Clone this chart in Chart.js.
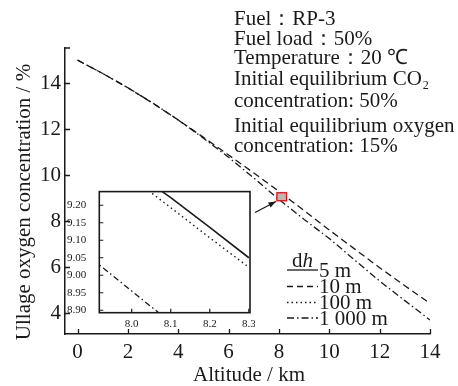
<!DOCTYPE html>
<html><head><meta charset="utf-8">
<script src="https://cdn.jsdelivr.net/npm/chart.js@4/dist/chart.umd.min.js"></script>
<style>
html,body{margin:0;padding:0;background:#fff;}
#wrap{position:relative;width:458px;height:386px;overflow:hidden;}
#main{position:absolute;left:0;top:0;}
#inset{position:absolute;left:60px;top:180px;}
</style></head><body>
<div id="wrap"><canvas id="main" width="458" height="386"></canvas><canvas id="inset" width="195" height="155"></canvas></div>
<script>
// ---- data ----
const altitudeKm = [0,1,2,3,4,5,6,7,8,9,10,11,12,13,14];
const dh10m   = [15.00,14.42,13.80,13.12,12.40,11.65,10.88,10.10,9.30,8.46,7.62,6.80,5.98,5.20,4.43];
const dh1000m = [15.00,14.42,13.80,13.13,12.40,11.61,10.78,9.88,8.95,8.08,7.25,6.32,5.40,4.55,3.71];
const xTicks = [0,2,4,6,8,10,12,14];
const yTicks = [4,6,8,10,12,14];

const insetAltitude = [7.9,8.0,8.1,8.2,8.3];
const inset5m    = [9.385,9.300,9.222,9.137,9.050];
const inset100m  = [9.365,9.279,9.193,9.107,9.023];
const inset1000m = [9.045,8.955,8.865,8.780,8.690];
const insetXTicks = [8.0,8.1,8.2,8.3];
const insetYTicks = [8.90,8.95,9.00,9.05,9.10,9.15,9.20];

const legendLabels = ['5 m','10 m','100 m','1 000 m'];
const noteLines = ['Fuel\uFF1ARP-3','Fuel load\uFF1A50%','Temperature\uFF1A20 \u2103','Initial equilibrium CO','concentration: 50%','Initial equilibrium oxygen','concentration: 15%'];
const xTitle = 'Altitude / km';
const yTitle = 'Ullage oxygen concentration / %';

// ---- styles ----
const SERIF = '"Liberation Serif","Times New Roman",serif';
const INK = '#1a1a1a';
const FS = 21;
const DASH = {solid:[], dashed:[6,4], dotted:[1.5,3], dashdot:[7,3,1.5,3]};
const legendStyles = [DASH.solid, DASH.dashed, DASH.dotted, DASH.dashdot];

const decor = {
  id:'decor',
  afterDraw(chart){
    const {ctx, chartArea:a, scales:{x,y}} = chart;
    ctx.save();
    // inward ticks
    ctx.strokeStyle = INK; ctx.lineWidth = 1.3; ctx.setLineDash([]);
    ctx.beginPath();
    xTicks.forEach(v=>{const p=Math.round(x.getPixelForValue(v))+0.5; ctx.moveTo(p,a.bottom); ctx.lineTo(p,a.bottom-5);});
    yTicks.forEach(v=>{const p=Math.round(y.getPixelForValue(v))+0.5; ctx.moveTo(a.left,p); ctx.lineTo(a.left+5,p);});
    ctx.moveTo(a.left,a.top); ctx.lineTo(a.left+5,a.top);
    ctx.stroke();
    // axis titles
    ctx.fillStyle = INK;
    ctx.font = FS+'px '+SERIF;
    ctx.textAlign='center'; ctx.textBaseline='middle';
    ctx.fillText(xTitle, 249, 375);
    ctx.save(); ctx.translate(24, 202); ctx.rotate(-Math.PI/2); ctx.fillText(yTitle,0,0); ctx.restore();
    // notes
    ctx.textAlign='left'; ctx.textBaseline='alphabetic';
    const base=[25,45,64,85,107,132,152];
    noteLines.forEach((t,i)=>{ctx.font=FS+'px '+SERIF; ctx.fillText(t,234,base[i]);
      if(i===3){const w=ctx.measureText(t).width; ctx.font='12px '+SERIF; ctx.fillText('2',234+w+1,base[i]+4);} });
    // red box marking inset range
    const bx0=x.getPixelForValue(insetAltitude[0]+0.017), bx1=x.getPixelForValue(8.3);
    const by0=y.getPixelForValue(9.239), by1=y.getPixelForValue(8.893);
    ctx.fillStyle='#b8b8b8'; ctx.fillRect(bx0,by0,bx1-bx0,by1-by0);
    ctx.strokeStyle='#e01010'; ctx.lineWidth=1.3; ctx.strokeRect(bx0,by0,bx1-bx0,by1-by0);
    // arrow
    const ax0=x.getPixelForValue(7.05), ay0=y.getPixelForValue(8.38);
    const ax1=x.getPixelForValue(7.88), ay1=y.getPixelForValue(8.86);
    ctx.strokeStyle=INK; ctx.fillStyle=INK; ctx.lineWidth=1.3;
    ctx.beginPath(); ctx.moveTo(ax0,ay0); ctx.lineTo(ax1,ay1); ctx.stroke();
    const ang=Math.atan2(ay1-ay0,ax1-ax0);
    ctx.beginPath(); ctx.moveTo(ax1,ay1);
    ctx.lineTo(ax1-8*Math.cos(ang-0.35), ay1-8*Math.sin(ang-0.35));
    ctx.lineTo(ax1-8*Math.cos(ang+0.35), ay1-8*Math.sin(ang+0.35));
    ctx.closePath(); ctx.fill();
    // legend
    ctx.font=FS+'px '+SERIF; ctx.fillStyle=INK;
    ctx.fillText('d',292,267);
    const dw=ctx.measureText('d').width;
    ctx.font='italic '+FS+'px '+SERIF; ctx.fillText('h',292+dw,267);
    ctx.font=FS+'px '+SERIF;
    const rows=[270,286.5,302.5,318];
    legendLabels.forEach((t,i)=>{
      ctx.setLineDash(legendStyles[i]); ctx.lineWidth=1.3; ctx.strokeStyle=INK;
      ctx.beginPath(); ctx.moveTo(287,rows[i]); ctx.lineTo(318,rows[i]); ctx.stroke();
      ctx.setLineDash([]);
      ctx.textBaseline='middle'; ctx.fillText(t,319,rows[i]+1);
    });
    ctx.restore();
  }
};

new Chart(document.getElementById('main'), {
  type:'line',
  data:{datasets:[
    {label:'10 m', data:altitudeKm.map((v,i)=>({x:v,y:dh10m[i]})), borderColor:INK, borderWidth:1.3, borderDash:[7,4], pointRadius:0, tension:0, fill:false},
    {label:'1 000 m', data:altitudeKm.map((v,i)=>({x:v,y:dh1000m[i]})), borderColor:INK, borderWidth:1.3, borderDash:[7,3,1.5,3], pointRadius:0, tension:0, fill:false}
  ]},
  options:{
    responsive:false, animation:false, devicePixelRatio:1,
    layout:{padding:{top:48,right:28,left:0,bottom:0}},
    plugins:{legend:{display:false},tooltip:{enabled:false}},
    scales:{
      x:{type:'linear', min:-0.5, max:14,
        grid:{display:false}, border:{display:true,color:INK,width:1.5},
        ticks:{font:{family:SERIF,size:FS},color:INK,padding:-2,maxRotation:0},
        afterBuildTicks:s=>{s.ticks=xTicks.map(v=>({value:v}));},
        afterFit:s=>{s.height=52;}},
      y:{type:'linear', min:3.1, max:15.53,
        grid:{display:false}, border:{display:true,color:INK,width:1.5},
        ticks:{font:{family:SERIF,size:FS},color:INK,padding:-4},
        afterBuildTicks:s=>{s.ticks=yTicks.map(v=>({value:v}));},
        afterFit:s=>{s.width=65;}}
    }
  },
  plugins:[decor]
});

const insetDecor = {
  id:'insetDecor',
  beforeDatasetsDraw(chart){
    const {ctx, chartArea:a}=chart;
    ctx.save(); ctx.fillStyle='#fff'; ctx.fillRect(a.left,a.top,a.right-a.left,a.bottom-a.top); ctx.restore();
  },
  afterDraw(chart){
    const {ctx, chartArea:a, scales:{x,y}}=chart;
    ctx.save();
    ctx.strokeStyle=INK; ctx.lineWidth=1.6; ctx.setLineDash([]);
    ctx.strokeRect(a.left,a.top,a.right-a.left,a.bottom-a.top);
    ctx.lineWidth=1.2;
    ctx.beginPath();
    insetXTicks.forEach(v=>{const p=x.getPixelForValue(v); ctx.moveTo(p,a.bottom); ctx.lineTo(p,a.bottom-4);});
    insetYTicks.forEach(v=>{const p=y.getPixelForValue(v); ctx.moveTo(a.left,p); ctx.lineTo(a.left+4,p);});
    ctx.stroke();
    ctx.restore();
  }
};

new Chart(document.getElementById('inset'), {
  type:'line',
  data:{datasets:[
    {label:'5 m', data:insetAltitude.map((v,i)=>({x:v,y:inset5m[i]})), borderColor:INK, borderWidth:1.6, pointRadius:0, tension:0},
    {label:'100 m', data:insetAltitude.map((v,i)=>({x:v,y:inset100m[i]})), borderColor:INK, borderWidth:1.4, borderDash:[1.5,3.2], pointRadius:0, tension:0},
    {label:'1 000 m', data:insetAltitude.map((v,i)=>({x:v,y:inset1000m[i]})), borderColor:INK, borderWidth:1.3, borderDash:[6,3,1.5,3], pointRadius:0, tension:0}
  ]},
  options:{
    responsive:false, animation:false, devicePixelRatio:1,
    layout:{padding:{top:7.7,right:5,left:0,bottom:0}},
    plugins:{legend:{display:false},tooltip:{enabled:false}},
    scales:{
      x:{type:'linear', min:7.917, max:8.303,
        grid:{display:false}, border:{display:false},
        ticks:{font:{family:SERIF,size:11},color:INK,padding:-3,maxRotation:0,callback:v=>v.toFixed(1)},
        afterBuildTicks:s=>{s.ticks=insetXTicks.map(v=>({value:v}));},
        afterFit:s=>{s.height=22.3;}},
      y:{type:'linear', min:8.893, max:9.239,
        grid:{display:false}, border:{display:false},
        ticks:{font:{family:SERIF,size:11},color:INK,padding:5,callback:v=>v.toFixed(2)},
        afterBuildTicks:s=>{s.ticks=insetYTicks.map(v=>({value:v}));},
        afterFit:s=>{s.width=39.3;}}
    }
  },
  plugins:[insetDecor]
});
</script>
</body></html>
